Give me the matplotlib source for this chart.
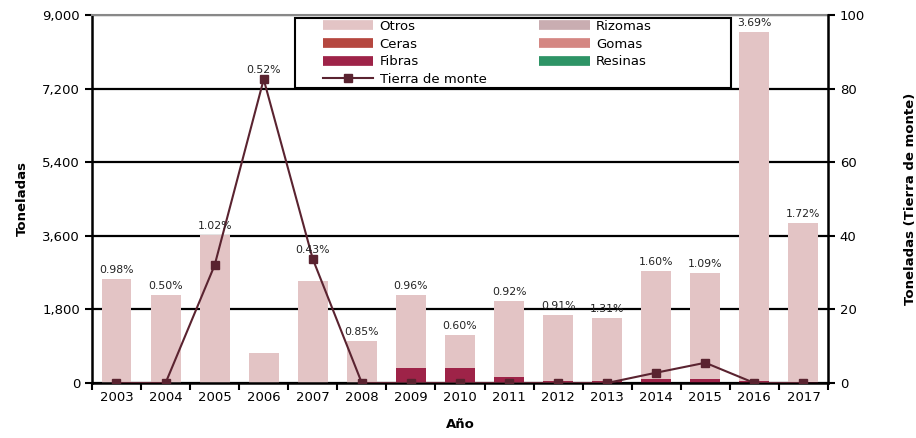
import matplotlib
matplotlib.use("Agg")
import matplotlib.pyplot as plt
from matplotlib.lines import Line2D
from matplotlib.patches import Rectangle
import numpy as np

plt.rcParams['font.family'] = ['DejaVu Sans']

years = ['2003', '2004', '2005', '2006', '2007', '2008', '2009', '2010',
         '2011', '2012', '2013', '2014', '2015', '2016', '2017']
fibras = [0, 0, 0, 0, 0, 0, 360, 360, 155, 55, 50, 105, 105, 50, 15]
ceras = [0] * 15
rizomas = [0] * 15
gomas = [0] * 15
resinas = [0] * 15
totales = [2540, 2150, 3620, 740, 2490, 1030, 2150, 1170,
           2010, 1660, 1580, 2740, 2690, 8590, 3920]
tierra_monte = [0, 0, 32, 82.5, 33.7, 0, 0, 0, 0, 0, 0, 2.8, 5.5, 0, 0]
pct_labels = ['0.98%', '0.50%', '1.02%', '0.52%', '0.43%', '0.85%', '0.96%', '0.60%',
              '0.92%', '0.91%', '1.31%', '1.60%', '1.09%', '3.69%', '1.72%']

c_otros = '#E3C4C5'
c_rizomas = '#C9ADB1'
c_ceras = '#B5473F'
c_gomas = '#D48783'
c_fibras = '#9E2348'
c_resinas = '#2E9466'
c_line = '#5A2330'

W, H = 916, 438
fig = plt.figure(figsize=(W / 100, H / 100), dpi=100)
ax = fig.add_axes([0.1004, 0.1256, 0.8035, 0.8402])
ax2 = ax.twinx()

x = np.arange(len(years))
w = 0.61
bottom = np.zeros(len(years))
for vals, col in [(fibras, c_fibras), (ceras, c_ceras), (rizomas, c_rizomas),
                  (gomas, c_gomas), (resinas, c_resinas)]:
    v = np.array(vals, dtype=float)
    ax.bar(x, v, w, bottom=bottom, color=col, zorder=2)
    bottom += v
otros = np.array(totales, dtype=float) - bottom
ax.bar(x, otros, w, bottom=bottom, color=c_otros, zorder=2)

ax.set_xlim(-0.5, len(years) - 0.5)
ax.set_ylim(0, 9000)
ax.set_yticks([0, 1800, 3600, 5400, 7200, 9000])
ax.set_yticklabels(['0', '1,800', '3,600', '5,400', '7,200', '9,000'], fontsize=9.5)
ax.set_xticks(x)
ax.set_xticklabels(years, fontsize=9.5)
ax.set_xticks(np.arange(-0.5, len(years), 1), minor=True)
ax.tick_params(axis='x', which='major', length=0, pad=6)
ax.tick_params(axis='x', which='minor', length=5, width=1.5, direction='out')
ax.tick_params(axis='y', length=5, width=1.5, direction='out')
ax.set_axisbelow(True)
ax.grid(axis='y', color='black', linewidth=1.6, zorder=0)
for s in ['left', 'bottom']:
    ax.spines[s].set_linewidth(1.8)
ax.spines['top'].set_color('#888888')
ax.spines['top'].set_linewidth(1.5)

ax2.plot(x, tierra_monte, color=c_line, marker='s', markersize=5.2, linewidth=1.5, zorder=5)
ax2.set_ylim(0, 100)
ax2.set_yticks([0, 20, 40, 60, 80, 100])
ax2.tick_params(axis='y', labelsize=9.5, length=5, width=1.5, direction='out')
ax2.spines['right'].set_linewidth(1.8)
ax2.spines['top'].set_visible(False)
ax2.spines['left'].set_visible(False)
ax2.spines['bottom'].set_visible(False)

# percentage labels
for i, lab in enumerate(pct_labels):
    anchor = max(totales[i], tierra_monte[i] * 90)
    ax2.annotate(lab, (x[i], anchor / 90), xytext=(0, 3), textcoords='offset points',
                 ha='center', va='bottom', fontsize=7.8, color='#222222', zorder=6)

ax.set_ylabel('Toneladas', fontsize=9.5, fontweight='bold', labelpad=10)
ax.set_xlabel('Año', fontsize=9.5, fontweight='bold', labelpad=10)
ax2.set_ylabel('Toneladas (Tierra de monte)', fontsize=9.5, fontweight='bold', labelpad=28)

# legend box
rect = Rectangle((295 / W, 1 - 88 / H), 436 / W, 70 / H, transform=fig.transFigure,
                 facecolor='white', edgecolor='black', linewidth=1.5,
                 clip_on=False, zorder=9)
ax2.add_patch(rect)

def patch_handle(c):
    return Line2D([0], [0], color=c, lw=7, solid_capstyle='butt')

handles = [
    patch_handle(c_otros),
    patch_handle(c_ceras),
    patch_handle(c_fibras),
    Line2D([0], [0], color=c_line, lw=1.5, marker='s', markersize=5.2),
    patch_handle(c_rizomas),
    patch_handle(c_gomas),
    patch_handle(c_resinas),
]
labels = ['Otros', 'Ceras', 'Fibras', 'Tierra de monte', 'Rizomas', 'Gomas', 'Resinas']
leg = ax2.legend(handles, labels, ncol=2, loc='upper left',
                 bbox_to_anchor=(323 / W, 1 - 20 / H), bbox_transform=fig.transFigure,
                 fontsize=9.5, frameon=False,
                 handlelength=3.8, handletextpad=0.5, columnspacing=4.0,
                 labelspacing=0.35, borderpad=0, borderaxespad=0)
leg.set_zorder(10)

fig.savefig('out.png', dpi=100)
